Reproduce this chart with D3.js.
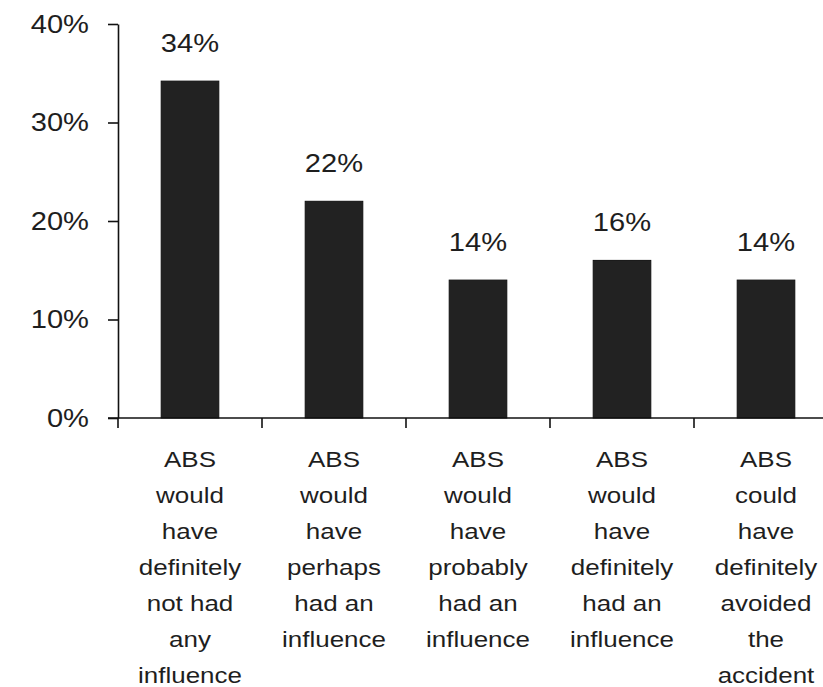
<!DOCTYPE html>
<html>
<head>
<meta charset="utf-8">
<script src="https://cdn.jsdelivr.net/npm/d3@7"></script>
<style>
  html, body { margin: 0; padding: 0; background: #fff; }
  svg { display: block; }
  text { font-family: "Liberation Sans", Arial, sans-serif; fill: #1e1e1e; }
</style>
</head>
<body>
<svg id="chart" width="823" height="687"></svg>
<script>
// ---- data ----
const categories = ["def-not", "perhaps", "probably", "def-had", "avoided"];
const categoryLabels = [
  ["ABS", "would", "have", "definitely", "not had", "any", "influence"],
  ["ABS", "would", "have", "perhaps", "had an", "influence"],
  ["ABS", "would", "have", "probably", "had an", "influence"],
  ["ABS", "would", "have", "definitely", "had an", "influence"],
  ["ABS", "could", "have", "definitely", "avoided", "the", "accident"]
];
const values = [34.2, 22, 14, 16, 14];
const yTicks = [0, 10, 20, 30, 40];

// ---- layout ----
const svg = d3.select("#chart");
const mLeft = 118, plotRight = 838, mTop = 24, mBottom = 418;
const sxNum = 1.12; // horizontal stretch of the reference's numeric text
const sxCat = 1.18; // horizontal stretch of category text

const x = d3.scaleBand().domain(categories).range([mLeft, plotRight])
  .paddingInner(0.6).paddingOuter(0.3);
const y = d3.scaleLinear().domain([0, 40]).range([mBottom, mTop]);

// bars
svg.append("g").selectAll("rect").data(values).join("rect")
  .attr("x", (d, i) => x(categories[i]))
  .attr("width", x.bandwidth())
  .attr("y", d => y(d))
  .attr("height", d => y(0) - y(d))
  .attr("fill", "#222")
  .attr("stroke", "#111")
  .attr("stroke-width", 1);

// y axis
const yAxis = svg.append("g").attr("transform", `translate(${mLeft},0)`)
  .call(d3.axisLeft(y).tickValues(yTicks).tickFormat(d => d + "%")
    .tickSize(10).tickSizeOuter(0).tickPadding(19));
yAxis.select(".domain").attr("stroke", "#111").attr("stroke-width", 1.6);
yAxis.selectAll(".tick line").attr("stroke", "#111").attr("stroke-width", 1.6);
yAxis.selectAll(".tick text")
  .attr("font-size", 26).attr("fill", "#1e1e1e")
  .style("font-family", '"Liberation Sans", Arial, sans-serif')
  .each(function () {
    const t = d3.select(this);
    const xx = +t.attr("x");
    t.attr("x", null).attr("transform", `translate(${xx},0) scale(${sxNum},1)`);
  });

// x axis line
svg.append("line")
  .attr("x1", mLeft - 10).attr("x2", 823)
  .attr("y1", y(0)).attr("y2", y(0))
  .attr("stroke", "#111").attr("stroke-width", 1.6);

// boundary ticks between categories
const step = x.step();
const boundaries = d3.range(categories.length + 1).map(k => x.range()[0] + k * step);
svg.append("g").selectAll("line").data(boundaries).join("line")
  .attr("x1", d => d).attr("x2", d => d)
  .attr("y1", y(0)).attr("y2", y(0) + 10)
  .attr("stroke", "#111").attr("stroke-width", 1.6);

// value labels
svg.append("g").selectAll("text").data(values).join("text")
  .attr("transform", (d, i) => `translate(${x(categories[i]) + x.bandwidth() / 2},${y(d) - 29}) scale(${sxNum},1)`)
  .attr("text-anchor", "middle")
  .attr("font-size", 26)
  .text(d => d3.format(".0f")(d) + "%");

// category labels
const lg = svg.append("g").selectAll("g").data(categoryLabels).join("g")
  .attr("transform", (d, i) => `translate(${x(categories[i]) + x.bandwidth() / 2},467)`);
lg.selectAll("text").data(d => d).join("text")
  .attr("transform", (d, j) => `translate(0,${j * 36}) scale(${sxCat},1)`)
  .attr("text-anchor", "middle")
  .attr("font-size", 22)
  .text(d => d);
</script>
</body>
</html>
